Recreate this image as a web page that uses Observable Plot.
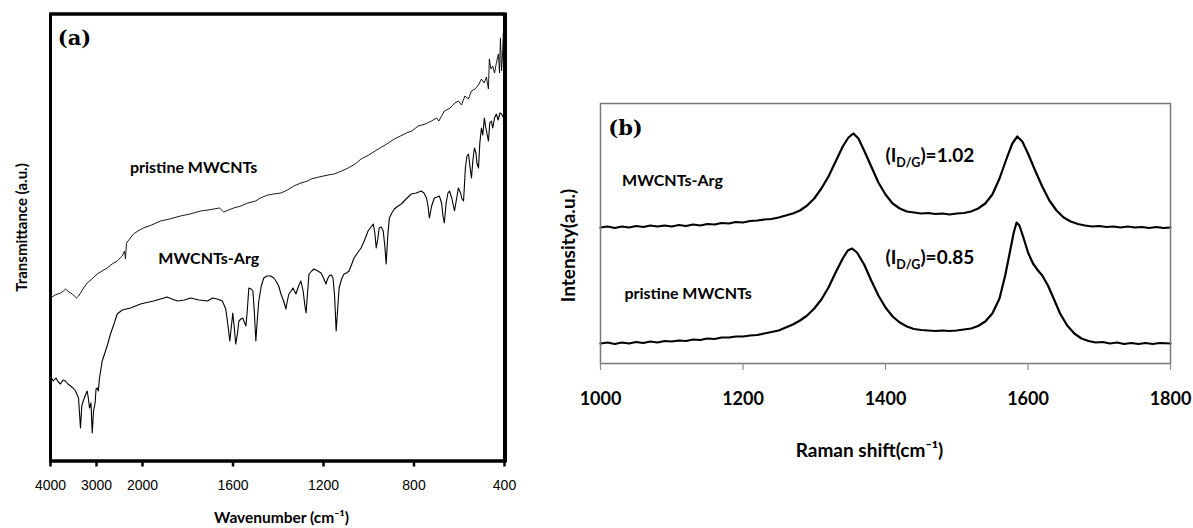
<!DOCTYPE html>
<html>
<head>
<meta charset="utf-8">
<script src="https://cdn.jsdelivr.net/npm/d3@7"></script>
<script src="https://cdn.jsdelivr.net/npm/@observablehq/plot@0.6"></script>
<style>
  html, body { margin: 0; padding: 0; background: white; }
  #wrap { position: relative; width: 1193px; height: 528px; background: white; overflow: hidden; }
  #wrap > svg { position: absolute; top: 0; }
</style>
</head>
<body>
<div id="wrap"></div>
<script>
// ---------- Panel (a): FTIR ----------
const ftirTicks = [4000, 3000, 2000, 1600, 1200, 800, 400];
const ftirXDomain = [4000, 2000, 400];
const ftirYDomain = [0, 447];
// [wavenumber (cm-1), transmittance (a.u.)]
const ftirPristine = [
  [4000,163],[3900,166],[3783,168],[3720,170],[3674,172],[3600,169],[3528,167],[3480,165],[3435,163],[3390,165],[3348,168],
  [3280,173],[3202,178],[3100,182],[2985,187],[2880,190],[2768,193],[2660,197],[2550,200],[2441,205],[2391,210],
  [2370,202],[2348,218],[2280,222],[2196,227],[2100,230],[1996,233],[1960,236],[1920,240],[1880,242],[1832,245],
  [1790,247],[1743,250],[1710,251],[1685,252],[1660,253],[1641,249],[1620,251],[1597,253],[1565,255],[1535,258],
  [1500,260],[1480,263],[1446,266],[1420,267],[1388,268],[1360,271],[1331,275],[1300,278],[1270,280],[1255,282],
  [1220,284],[1180,286],[1153,287],[1120,290],[1091,293],[1060,297],[1034,302],[1000,306],[958,312],[920,317],
  [887,322],[860,325],[834,328],[810,330],[781,335],[750,337],[723,340],[700,343],[690,340],[666,350],[640,353],
  [620,358],[604,360],[590,356],[575,365],[560,362],[546,370],[530,372],[515,376],[502,382],[490,378],[480,384],
  [471,372],[467,402],[460,392],[452,395],[444,388],[436,398],[427,407],[422,388],[418,423],[413,390],[409,405],
  [405,428],[402,398],[400,393]
];
const ftirArg = [
  [4000,85],[3940,80],[3880,83],[3830,79],[3783,77],[3730,81],[3674,80],[3620,77],[3565,75],[3510,73],[3457,70],
  [3391,63],[3348,33],[3320,55],[3289,60],[3240,66],[3202,70],[3175,62],[3152,53],[3120,58],[3093,28],[3065,50],
  [3030,58],[3010,72],[2985,73],[2960,70],[2935,83],[2876,100],[2804,110],[2750,118],[2696,127],[2620,137],
  [2550,147],[2441,151],[2350,152],[2261,153],[2150,155],[2043,157],[1990,158],[1951,160],[1920,162],[1891,164],
  [1870,162],[1846,160],[1815,161],[1787,163],[1750,161],[1713,160],[1690,163],[1669,162],[1647,160],[1632,152],
  [1622,135],[1614,120],[1607,135],[1601,148],[1595,135],[1588,117],[1580,128],[1574,140],[1565,142],[1557,143],
  [1543,135],[1537,150],[1530,173],[1520,172],[1512,170],[1506,150],[1499,120],[1493,140],[1486,160],[1475,175],
  [1464,183],[1450,185],[1433,185],[1420,183],[1410,180],[1398,175],[1388,167],[1376,160],[1366,152],[1360,160],
  [1353,167],[1343,170],[1335,173],[1322,167],[1310,175],[1300,180],[1290,170],[1282,155],[1277,148],[1270,170],
  [1264,187],[1252,190],[1242,192],[1225,190],[1211,188],[1200,183],[1189,177],[1182,182],[1175,185],[1165,186],
  [1158,183],[1151,165],[1144,130],[1138,150],[1131,173],[1120,182],[1109,187],[1098,188],[1087,190],[1075,197],
  [1065,203],[1050,208],[1034,213],[1020,220],[1003,230],[990,234],[980,237],[973,228],[967,213],[960,222],
  [954,233],[945,234],[936,230],[929,215],[923,197],[916,225],[909,243],[898,248],[887,252],[870,255],[856,257],
  [835,262],[812,267],[790,268],[768,270],[756,268],[745,263],[738,255],[732,243],[722,255],[710,263],[698,264],
  [688,265],[678,258],[672,245],[666,238],[658,258],[650,268],[643,270],[632,262],[621,250],[612,262],[604,273],
  [594,268],[588,262],[581,260],[576,280],[573,293],[566,305],[559,307],[553,295],[546,283],[540,300],[533,313],
  [526,308],[522,298],[515,293],[509,318],[502,333],[496,326],[489,343],[484,335],[478,328],[471,320],[465,338],
  [458,340],[452,333],[444,343],[436,347],[428,341],[420,348],[413,347],[406,344],[400,345]
];
const labelsA = [
  {x: 1774, y: 293.5, label: "pristine MWCNTs"},
  {x: 1707, y: 202.5, label: "MWCNTs-Arg"}
];

// ---------- Panel (b): Raman ----------
const ramanTicks = [1000, 1200, 1400, 1600, 1800];
// [Raman shift (cm-1), intensity (a.u.)]
const ramanArg = [
  [1000,136],[1010,137],[1020,135.5],[1030,137],[1040,136],[1050,137.5],[1060,136.5],[1070,138],[1080,137],
  [1090,138],[1100,137],[1110,138.5],[1120,137.5],[1130,139],[1140,138],[1150,139.5],[1160,139],[1170,140.5],
  [1180,140],[1190,141.5],[1200,141],[1210,142.5],[1220,143],[1230,144],[1240,144.5],[1250,146],[1260,148],
  [1270,150],[1280,153],[1290,158],[1300,165],[1310,175],[1320,187],[1330,202],[1340,217],[1348,226],[1355,230],
  [1362,225],[1370,213],[1380,197],[1390,181],[1400,169],[1410,160],[1420,155],[1430,152],[1440,151],[1450,150],
  [1460,150.5],[1470,149.5],[1480,150],[1490,149],[1500,150],[1510,150.5],[1520,152],[1530,155],[1540,160],
  [1550,169],[1560,185],[1570,205],[1578,220],[1585,227],[1592,222],[1600,210],[1610,193],[1620,177],[1630,163],
  [1640,153],[1650,146],[1660,142],[1670,139.5],[1680,138],[1690,137],[1700,137.5],[1710,136.5],[1720,137],
  [1730,136],[1740,137],[1750,136],[1760,136.5],[1770,135.5],[1780,136.5],[1790,135.5],[1800,136]
];
const ramanPristine = [
  [1000,20],[1010,21],[1020,19.5],[1030,21],[1040,20],[1050,21.5],[1060,20.5],[1070,22],[1080,21],[1090,22.5],
  [1100,22],[1110,23],[1120,22.5],[1130,24],[1140,23.5],[1150,25],[1160,24.5],[1170,26],[1180,26],[1190,27],
  [1200,27],[1210,28],[1220,28.5],[1230,30],[1240,31.5],[1250,33],[1260,36],[1270,39],[1280,43],[1290,48],
  [1300,55],[1310,64],[1320,76],[1330,91],[1340,105],[1347,113],[1353,115],[1360,111],[1370,99],[1380,83],
  [1390,68],[1400,56],[1410,47],[1420,41],[1430,37],[1440,34.5],[1450,33.5],[1460,33],[1470,32.5],[1480,33],
  [1490,32.5],[1500,33],[1510,34],[1520,35],[1530,37.5],[1540,42],[1550,50],[1560,65],[1568,88],[1575,113],
  [1580,131],[1584,141],[1588,138],[1594,125],[1600,111],[1607,100],[1614,93],[1620,88],[1628,78],[1636,65],
  [1645,50],[1655,38],[1665,30],[1675,25],[1685,22.5],[1695,21],[1705,21.5],[1715,20],[1725,21],[1735,19.5],
  [1745,20.5],[1755,19.5],[1765,20.5],[1775,19.5],[1785,20.5],[1800,20]
];
const labelsB = [
  {x: 1101, y: 183, label: "MWCNTs-Arg"},
  {x: 1123, y: 70, label: "pristine MWCNTs"}
];
const ratioB = [
  {x: 1400, y: 208, label: "(I_D/G)=1.02"},
  {x: 1400, y: 106, label: "(I_D/G)=0.85"}
];

const SANS = "Lato, 'Open Sans', sans-serif";
const SERIF = "'DejaVu Serif', 'Liberation Serif', serif";
const mid = {textAnchor: "middle", lineAnchor: "middle"};

const plotA = Plot.plot({
  width: 520, height: 528,
  marginLeft: 50, marginRight: 15, marginTop: 13.5, marginBottom: 67.5,
  x: {type: "linear", domain: ftirXDomain, range: [50, 142, 504]},
  y: {domain: ftirYDomain, axis: null},
  style: {fontFamily: "'Liberation Sans', Arial, sans-serif", fontSize: "14px", color: "black", overflow: "visible"},
  marks: [
    Plot.line(ftirPristine, {x: d => d[0], y: d => d[1], stroke: "black", strokeWidth: 0.9}),
    Plot.line(ftirArg, {x: d => d[0], y: d => d[1], stroke: "black", strokeWidth: 1.1}),
    Plot.axisX({ticks: ftirTicks, tickFormat: d => `${d}`, tickSize: 6, tickPadding: 13, strokeWidth: 2.5, fontSize: 14, label: null}),
    Plot.text(labelsA, {x: "x", y: "y", text: "label", fontFamily: SANS, fontWeight: "bold", fontSize: 16, fill: "black"}),
    Plot.text(["(a)"], {text: d => d, frameAnchor: "top-left", dx: 24, dy: 24.5, ...mid, fontFamily: SERIF, fontWeight: "bold", fontSize: 21, fill: "black"}),
    Plot.text(["Transmittance (a.u.)"], {text: d => d, frameAnchor: "left", dx: -28, dy: -10, ...mid, rotate: -90, fontFamily: SANS, fontWeight: "bold", fontSize: 15, fill: "black"}),
    Plot.text(["Wavenumber (cm\u207B\u00B9)"], {text: d => d, frameAnchor: "bottom", dx: 3.5, dy: 57.5, ...mid, fontFamily: SANS, fontWeight: "bold", fontSize: 15.5, fill: "black"}),
    Plot.frame({stroke: "#000000", strokeWidth: 3}),
    Plot.ruleY(ftirYDomain, {stroke: "#000000", strokeWidth: 3}),
    Plot.ruleX([ftirXDomain[0], ftirXDomain[2]], {stroke: "#000000", strokeWidth: 3})
  ]
});

const plotB = Plot.plot({
  width: 653, height: 528,
  marginLeft: 60, marginRight: 23, marginTop: 103, marginBottom: 165,
  x: {domain: [1000, 1800]},
  y: {domain: [0, 260], axis: null},
  style: {fontFamily: SANS, fontSize: "18px", color: "black", overflow: "visible"},
  marks: [
    Plot.line(ramanArg, {x: d => d[0], y: d => d[1], stroke: "black", strokeWidth: 2.2}),
    Plot.line(ramanPristine, {x: d => d[0], y: d => d[1], stroke: "black", strokeWidth: 2.2}),
    Plot.frame({stroke: "#7a7a7a", strokeWidth: 1.5}),
    Plot.axisX({ticks: ramanTicks, tickSize: 7, text: null, stroke: "#8a8a8a", strokeWidth: 1.2, label: null}),
    Plot.axisX({ticks: ramanTicks, tickSize: 0, tickPadding: 29, tickFormat: d => `${d}`, fontFamily: SANS, fontWeight: "bold", fontSize: 18, fill: "black", label: null}),
    Plot.text(labelsB, {x: "x", y: "y", text: "label", fontFamily: SANS, fontWeight: "bold", fontSize: 16, fill: "black"}),
    Plot.text(ratioB, {x: "x", y: "y", text: "label", textAnchor: "start", fontFamily: SANS, fontWeight: "bold", fontSize: 19, fill: "black"}),
    Plot.text(["(b)"], {text: d => d, frameAnchor: "top-left", dx: 25, dy: 25, ...mid, fontFamily: SERIF, fontWeight: "bold", fontSize: 21, fill: "black"}),
    Plot.text(["Intensity(a.u.)"], {text: d => d, frameAnchor: "left", dx: -32, dy: 12, ...mid, rotate: -90, fontFamily: SANS, fontWeight: "bold", fontSize: 19, fill: "black"}),
    Plot.text(["Raman shift(cm\u207B\u00B9)"], {text: d => d, frameAnchor: "bottom", dx: -16, dy: 87, ...mid, fontFamily: SANS, fontWeight: "bold", fontSize: 19, fill: "black"})
  ]
});

// subscript D/G
d3.select(plotB).selectAll("text").each(function() {
  const t = this.textContent;
  if (t.includes("_") && this.childElementCount === 0) {
    const [pre, rest] = t.split("_");
    const sub = rest.slice(0, 3), post = rest.slice(3);
    const sel = d3.select(this);
    sel.text(null);
    sel.append("tspan").text(pre);
    sel.append("tspan").attr("font-size", 12.5).attr("dy", 5).text(sub);
    sel.append("tspan").attr("dy", -5).text(post);
  }
});

plotA.style.left = "0px";
plotA.style.zIndex = "2";
plotB.style.left = "540px";
plotB.style.zIndex = "1";
const wrap = document.getElementById("wrap");
wrap.appendChild(plotB);
wrap.appendChild(plotA);
</script>
</body>
</html>
